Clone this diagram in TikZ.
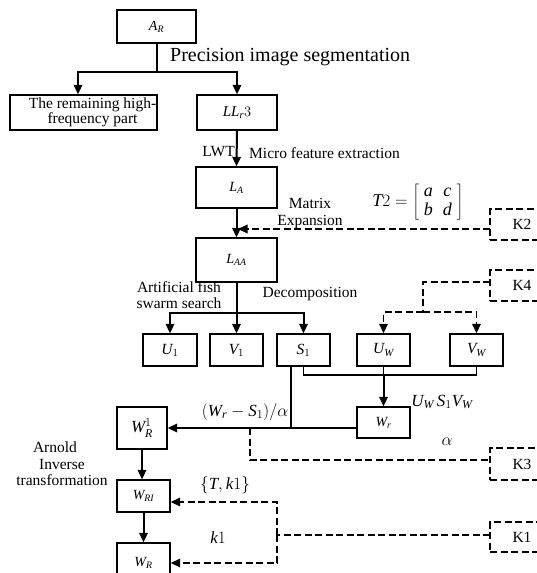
\documentclass[tikz,border=0pt]{standalone}
\usepackage{fontspec}
\setmainfont{Liberation Serif}
\usetikzlibrary{arrows.meta}
\newcommand\myfs[1]{\fontsize{#1}{#1}\selectfont}
\newcommand\mv[1]{\mathit{#1}}
\begin{document}
\begin{tikzpicture}[x=1pt,y=-1pt,
 box/.style={draw, line width=1.4pt, inner sep=0pt, font=\myfs{14}},
 kbox/.style={draw, line width=1.8pt, dash pattern=on 7pt off 3.5pt, inner sep=0pt, minimum width=64pt, font=\myfs{15.5}},
 thk/.style={line width=2pt},
 thn/.style={line width=1.3pt},
 arr/.style={line width=2pt, -{Triangle[length=9.5pt,width=8.5pt]}},
 dsh/.style={line width=1.8pt, dash pattern=on 7pt off 3.5pt},
 darr/.style={dsh, -{Triangle[length=9.5pt,width=8.5pt]}},
 lbl/.style={font=\fontsize{15.5}{16.5}\selectfont, inner sep=0pt},
 mlbl/.style={font=\myfs{17}, inner sep=0pt},
]
\useasboundingbox (0,0) rectangle (537,573);
\clip (0,0) rectangle (537,573);

% boxes
\node[box, minimum width=79pt, minimum height=33pt] (AR) at (156.5,26.5) {$\mv{A}_{\mv{R}}$};
\node[box, minimum width=147pt, minimum height=35pt, font=\fontsize{15.5}{15.5}\selectfont, align=center] (Rem) at (83.5,112.5) {\hspace*{18pt}The remaining high-\\\hspace*{18pt}frequency part};
\node[box, minimum width=80pt, minimum height=35pt, font=\myfs{15}] (LL) at (237,112.5) {$\mv{LL}_{\mv{r}}3$};
\node[box, minimum width=81pt, minimum height=41pt] (LA) at (236.5,187.5) {$\mv{L}_{\mv{A}}$};
\node[box, minimum width=81pt, minimum height=44pt] (LAA) at (236.5,260) {$\mv{L}_{\mv{AA}}$};
\node[box, minimum width=54pt, minimum height=32pt, font=\myfs{15.5}] (U1) at (170,350) {$\mv{U}_{1}$};
\node[box, minimum width=53pt, minimum height=32pt, font=\myfs{15.5}] (V1) at (236.5,350) {$\mv{V}_{1}$};
\node[box, minimum width=53pt, minimum height=32pt, font=\myfs{15.5}] (S1) at (303.5,350) {$\mv{S}_{1}$};
\node[box, minimum width=53pt, minimum height=32pt, font=\myfs{15.5}] (UW) at (383.5,350) {$\mv{U}_{\mv{W}}$};
\node[box, minimum width=53pt, minimum height=32pt, font=\myfs{15.5}] (VW) at (476.5,350) {$\mv{V}_{\mv{W}}$};
\node[box, minimum width=53pt, minimum height=31pt] (Wr) at (383.5,422.5) {$\mv{W}_{\mv{r}}$};
\node[box, minimum width=50pt, minimum height=42pt, font=\myfs{17}] (WR1) at (142,428) {$\mv{W}_{\mv{R}}^{1}$};
\node[box, minimum width=53pt, minimum height=32pt] (WRI) at (143.5,496) {$\mv{W}_{\mv{RI}}$};
\node[box, minimum width=53pt, minimum height=39pt] (WR) at (143.5,562.5) {$\mv{W}_{\mv{R}}$};

\node[kbox, minimum height=31pt] (K2) at (522,224.5) {K2};
\node[kbox, minimum height=31pt] (K4) at (522,285.5) {K4};
\node[kbox, minimum height=32pt] (K3) at (522,464) {K3};
\node[kbox, minimum height=30pt] (K1) at (522,537) {K1};

% connectors
\coordinate (j1) at (156.5,72);
\coordinate (jl) at (78,72);
\draw[thk] (AR.south) -- (j1);
\draw[arr] (j1) -- (jl) -- (jl |- Rem.north);
\draw[arr] (j1) -| (LL.north);
\draw[arr] (LL.south) -- (LA.north);
\draw[arr] (LA.south) -- (LAA.north);
\coordinate (k2in) at (490,229);
\draw[darr, shorten >=1.5pt] (k2in) -- (LA.south |- k2in);

\coordinate (j2) at (236.5,313);
\draw[thk] (LAA.south) -- (j2);
\draw[arr] (j2) -| (U1.north);
\draw[arr] (j2) -- (V1.north);
\draw[arr] (j2) -| (S1.north);

\coordinate (k4in) at (490,282);
\coordinate (j4) at (423,312);
\draw[dsh] (k4in) -| (j4);
\draw[darr] (j4) -| (UW.north);
\draw[darr] (j4) -| (VW.north);

\coordinate (j5) at (383.5,375);
\draw[thn] (S1.south) |- (j5) -| (VW.south);
\draw[thn] (UW.south) -- (j5);
\draw[arr] (j5) -- (Wr.north);
\coordinate (j6) at (291,428);
\draw[thn] (j6 |- S1.south) -- (j6);
\draw[arr] (Wr.west |- WR1.east) -- (WR1.east);

\coordinate (k3a) at (250,428);
\coordinate (k3in) at (490,460);
\draw[dsh] (k3a) |- (k3in);

\draw[arr] (WR1.south) -- (WR1.south |- WRI.north);
\draw[arr] (WRI.south) -- (WR.north);

\coordinate (k1t) at (277,502);
\coordinate (k1b) at (277,563);
\coordinate (k1in) at (490,535);
\draw[dsh] (k1in) -- (k1t |- k1in);
\draw[darr] (k1t |- k1in) -- (k1t) -- (WRI.east |- k1t);
\draw[darr] (k1t |- k1in) -- (k1b) -- (WR.east |- k1b);

% labels
\node[lbl, font=\myfs{20}, anchor=west] (tPre) at (170,57) {Precision image segmentation};
\node[lbl, anchor=east] (tLWT) at (235,152) {LWT};
\node[lbl, anchor=west] (tMicro) at (249,153) {Micro feature extraction};
\node[lbl, align=center] (tMat) at (310,213.5) {Matrix\\Expansion};
\node[mlbl, font=\fontsize{18}{19}\selectfont] (tT2) at (418,202) {\renewcommand\arraystretch{1.05}$\mv{T}2=\left[\begin{array}{cc}\mv{a}&\mv{c}\\\mv{b}&\mv{d}\end{array}\right]$};
\node[lbl, align=center] (tAFS) at (179,295) {Artificial fish\\swarm search};
\node[lbl] (tDec) at (310,294) {Decomposition};
\node[mlbl] (tWS) at (245,412) {$(\mv{W}_{\mv{r}}-\mv{S}_{1})/\alpha$};
\node[mlbl] (tUSV) at (442,402) {$\mv{U}_{\mv{W}}\,\mv{S}_{1}\mv{V}_{\mv{W}}$};
\node[mlbl] (tal) at (447,442) {$\alpha$};
\node[lbl, align=center] (tArn) at (62,464) {Arnold\hspace*{14pt}\\Inverse\\transformation};
\node[mlbl] (tTk) at (225,485) {$\{\mv{T},\mv{k}1\}$};
\node[mlbl] (tk1) at (218,538) {$\mv{k}1$};
\end{tikzpicture}
\end{document}
